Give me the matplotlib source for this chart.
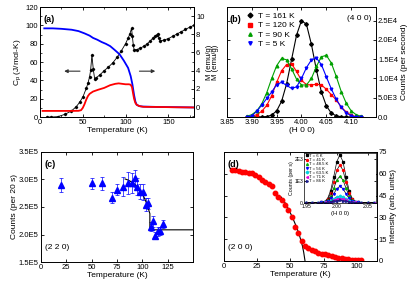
import matplotlib
matplotlib.use('Agg')
import matplotlib.pyplot as plt
from matplotlib.ticker import AutoMinorLocator

plt.rcParams['font.family'] = ['Liberation Sans', 'DejaVu Sans']
plt.rcParams['font.size'] = 5.5
plt.rcParams['axes.linewidth'] = 0.7
plt.rcParams['xtick.direction'] = 'in'
plt.rcParams['ytick.direction'] = 'in'
plt.rcParams['xtick.major.size'] = 2.5
plt.rcParams['ytick.major.size'] = 2.5
plt.rcParams['xtick.minor.size'] = 1.4
plt.rcParams['ytick.minor.size'] = 1.4
plt.rcParams['xtick.major.width'] = 0.6
plt.rcParams['ytick.major.width'] = 0.6
plt.rcParams['xtick.minor.width'] = 0.5
plt.rcParams['ytick.minor.width'] = 0.5
plt.rcParams['xtick.major.pad'] = 1.5
plt.rcParams['ytick.major.pad'] = 1.5

# ---- (a) heat capacity and magnetisation
T_cp = [8, 13, 21, 29, 36.6, 42.4, 46.3, 50.2, 54.1, 56, 58, 59.2, 60.7, 62.3, 63.9, 66, 70, 75,
        80, 85, 90, 95, 100, 103, 105, 107, 108, 109, 110, 113, 117, 121, 125, 129, 132, 135,
        137, 138, 139.2, 140.5, 145, 150, 155, 160, 165, 170, 175, 180]
cp = [0, 0, 0.4, 2.9, 6.5, 11.3, 16, 22, 31.3, 36.7, 44, 51.3, 67.6, 52, 41.5, 43, 46, 50.5,
      54.5, 59, 65, 72, 80, 86, 90.5, 96.7, 88, 79, 73.5, 73.5, 75, 77, 79.5, 83, 86, 88.3,
      89.5, 90.5, 86, 83, 84, 85.5, 88, 90.5, 93, 95.5, 98, 100]
T_m1 = [5, 15, 25, 37, 45, 52, 58, 62, 67, 72, 77, 82, 87, 93, 98, 103, 106, 108, 110, 111.5,
        113, 116, 120, 140, 160, 180]
m1 = [8.65, 8.65, 8.6, 8.5, 8.35, 8.1, 7.85, 7.6, 7.4, 7.15, 6.95, 6.7, 6.3, 5.8, 5.1, 4.3, 3.4,
      2.5, 1.3, 0.6, 0.25, 0.1, 0.05, 0.0, -0.02, -0.05]
T_m2 = [3, 20, 35, 45, 48, 50, 52, 54, 56, 58, 62, 68, 75, 82, 88, 92, 96, 100, 104, 106, 107.5,
        109, 110, 111.5, 113, 116, 121, 140, 160, 180]
m2 = [-0.43, -0.43, -0.43, -0.42, -0.35, -0.1, 0.3, 0.8, 1.2, 1.45, 1.7, 1.9, 2.1, 2.4, 2.55,
      2.6, 2.55, 2.5, 2.5, 2.45, 2.2, 1.4, 0.9, 0.45, 0.25, 0.1, 0.02, 0.0, -0.03, -0.05]

# ---- (b) (4 0 0) scans
H_b = [3.89, 3.90, 3.91, 3.92, 3.93, 3.94, 3.95, 3.96, 3.97, 3.98, 3.99, 4.00, 4.01, 4.02,
       4.03, 4.04, 4.05, 4.06, 4.07, 4.08, 4.09, 4.10, 4.11, 4.12]
c161 = [0, 0, 0, 0.03, 0.13, 0.5, 1.6, 4.1, 8.6, 14.9, 21.2, 25.0, 24.0, 18.8, 12.2, 6.5, 2.9,
        1.0, 0.3, 0.07, 0, 0, 0, 0]
c120 = [0.0, 0.2, 0.6, 1.5, 3.0, 5.5, 9.0, 12.0, 13.6, 13.8, 11.8, 9.5, 8.4, 8.3, 8.5, 8.3, 7.2,
        5.8, 4.4, 2.6, 1.3, 0.5, 0.1, 0.0]
c90 = [0.2, 0.6, 1.6, 3.4, 6.3, 10.0, 13.3, 15.2, 14.8, 12.5, 9.8, 8.3, 8.3, 10.0, 13.1, 15.6,
       16.0, 14.0, 10.5, 6.6, 3.6, 1.6, 0.6, 0.2]
c5 = [0.0, 0.3, 1.5, 3.1, 4.8, 6.5, 8.4, 9.0, 8.2, 7.4, 7.8, 10.0, 12.8, 14.8, 15.3, 13.6, 10.4,
      7.3, 4.6, 2.5, 1.1, 0.3, 0.0, 0.0]
b_labels = ['T = 161 K', 'T = 120 K', 'T = 90 K', 'T = 5 K']

# ---- (c) (2 2 0) intensity
T_c = [20, 50, 60, 70, 75, 80.5, 85.5, 90, 93, 95, 97.5, 101, 103.5, 105.5, 108.5, 110.5, 113,
       115.5, 118, 120.5]
cnt_c = [2.90, 2.93, 2.93, 2.67, 2.81, 2.87, 2.93, 2.93, 3.02, 2.87, 2.78, 2.77, 2.54, 2.57,
         2.14, 2.24, 1.98, 2.06, 2.06, 2.19]
err_c = [0.13, 0.10, 0.12, 0.10, 0.10, 0.17, 0.20, 0.18, 0.15, 0.15, 0.14, 0.14, 0.12, 0.10,
         0.08, 0.10, 0.07, 0.08, 0.07, 0.07]
fitT_c = [83, 86, 89, 92, 95, 98, 101, 104, 106, 107.5, 107.5, 150]
fit_c = [3.01, 2.99, 2.96, 2.92, 2.87, 2.80, 2.71, 2.58, 2.47, 2.38, 2.085, 2.085]

# ---- (d) (2 0 0) intensity
T_d = [6, 8.5, 11, 13.5, 16, 18.5, 21, 23.5, 26, 28.5, 31, 33.5, 36, 38.5, 41, 43.5, 46, 48.5,
       51, 53.5, 56, 58.5, 61, 63.5, 66, 68.5, 71, 73.5, 76, 78.5, 81, 83.5, 86, 88.5, 91, 93.5,
       96, 98.5, 101, 103.5]
I_d = [62.9, 62.8, 62.0, 61.3, 60.9, 60.6, 60.4, 59.0, 57.5, 56.0, 54.5, 53.0, 51.6, 47.0, 44.0,
       41.8, 38.5, 35.0, 30.5, 23.5, 19.0, 14.0, 10.5, 8.8, 7.6, 6.6, 5.8, 5.1, 4.5, 3.9, 3.4,
       2.9, 2.4, 2.0, 1.6, 1.3, 1.0, 0.8, 0.6, 0.4]
fitT_d = [43, 46, 49, 52, 55, 57, 59, 60, 61]
fit_d = [44, 40, 35, 29, 22.5, 17, 10.5, 6, 0]

# inset of (d): (1 0 0) scans
H_in = [1.950, 1.960, 1.970, 1.975, 1.980, 1.985, 1.990, 1.995, 2.000, 2.005, 2.010, 2.015,
        2.020, 2.025, 2.030, 2.035, 2.040, 2.050, 2.060]
in_scans = {
    'T = 6 K': [0, 0, 0, 10, 45, 185, 550, 1190, 1890, 2200, 1890, 1190, 550, 185, 45, 10, 0, 0, 0],
    'T = 41 K': [0, 0, 0, 8, 36, 147, 435, 940, 1490, 1740, 1490, 940, 435, 147, 36, 8, 0, 0, 0],
    'T = 48.5 K': [0, 0, 0, 5, 25, 102, 302, 654, 1040, 1210, 1040, 654, 302, 102, 25, 5, 0, 0, 0],
    'T = 56 K': [0, 0, 0, 3, 16, 63, 187, 404, 642, 750, 642, 404, 187, 63, 16, 3, 0, 0, 0],
    'T = 63.5 K': [0, 0, 0, 1, 6, 25, 75, 162, 257, 300, 257, 162, 75, 25, 6, 1, 0, 0, 0],
    'T = 71 K': [0, 0, 0, 1, 4, 15, 45, 97, 154, 180, 154, 97, 45, 15, 4, 1, 0, 0, 0],
    'T = 86 K': [0, 0, 0, 0, 2, 8, 25, 54, 86, 100, 86, 54, 25, 8, 2, 0, 0, 0, 0],
}
in_colors = ['black', 'red', '#00b000', 'blue', '#00d0e0', '#e000e0', '#1a1a8c']
in_markers = ['s', 'o', '^', 'v', 'D', '<', '>']

lab = 6
fig = plt.figure(figsize=(4.15, 2.87), dpi=100)

# ================= (a)
ax = fig.add_axes([0.0964, 0.5923, 0.371, 0.3833])
ax2 = ax.twinx()
ax2.plot(T_m1, m1, color='blue', lw=1.3)
ax2.plot(T_m2, m2, color='red', lw=1.3)
ax.plot(T_cp, cp, color='black', lw=0.6, marker='D', ms=1.2)
ax.set_xlim(0, 180)
ax.set_ylim(0, 120)
ax2.set_ylim(-1.1, 11)
ax.set_xticks([0, 50, 100, 150])
ax.set_yticks(range(0, 121, 20))
ax2.set_yticks(range(0, 11, 2))
for a in (ax, ax2):
    a.xaxis.set_minor_locator(AutoMinorLocator(2))
    a.yaxis.set_minor_locator(AutoMinorLocator(2))
ax.tick_params(which='both', top=True, labelsize=5.5)
ax2.tick_params(which='both', labelsize=5.5)
ax.set_xlabel('Temperature (K)', fontsize=lab, labelpad=1)
ax.set_ylabel(r'C$_\mathregular{p}$ (J/mol-K)', fontsize=lab, labelpad=1)
ax2.set_ylabel('M (emu/g)', fontsize=5.6)
ax2.yaxis.set_label_coords(1.075, 0.5)
ax.text(0.025, 0.93, '(a)', transform=ax.transAxes, fontsize=6.5, fontweight='bold', va='top')
ax.annotate('', xy=(25, 50), xytext=(50, 50),
            arrowprops=dict(arrowstyle='-|>', color='#333333', lw=0.8, mutation_scale=5))
ax.annotate('', xy=(138, 50), xytext=(113, 50),
            arrowprops=dict(arrowstyle='-|>', color='#333333', lw=0.8, mutation_scale=5))

# ================= (b)
ax = fig.add_axes([0.547, 0.5923, 0.359, 0.3833])
series_b = [c161, c120, c90, c5]
cols_b = ['black', 'red', '#00a000', 'blue']
mk_b = ['D', 's', '^', 'v']
for ys, c, m, l in zip(series_b, cols_b, mk_b, b_labels):
    ax.plot(H_b, [v * 1000 for v in ys], color=c, lw=0.8)
    ax.plot(H_b, [v * 1000 for v in ys], color=c, lw=0, marker=m, ms=1.9, label=l)
ax.set_xlim(3.85, 4.15)
ax.set_ylim(0, 28500)
ax.set_xticks([3.85, 3.90, 3.95, 4.00, 4.05, 4.10])
ax.set_xticklabels(['3.85', '3.90', '3.95', '4.00', '4.05', '4.10'])
ax.set_yticks([0, 5000, 10000, 15000, 20000, 25000])
ax.set_yticklabels(['0.0', '5.0E3', '1.0E4', '1.5E4', '2.0E4', '2.5E4'])
ax.yaxis.tick_right()
ax.yaxis.set_label_position('right')
ax.tick_params(which='both', top=True, left=True, right=True, labelleft=False, labelsize=5.5)
ax.set_xlabel('(H 0 0)', fontsize=lab, labelpad=1)
ax.set_ylabel('Counts (per second)', fontsize=lab, labelpad=2)
ax.text(-0.075, 0.5, 'M (emu/g)', transform=ax.transAxes, rotation=90, fontsize=5.6,
        ha='center', va='center')
ax.text(0.02, 0.93, '(b)', transform=ax.transAxes, fontsize=6.5, fontweight='bold', va='top')
ax.text(0.97, 0.93, '(4 0 0)', transform=ax.transAxes, fontsize=6, ha='right', va='top')
ax.legend(loc='upper left', bbox_to_anchor=(0.09, 1.01), frameon=False, fontsize=6,
          handlelength=0.8, handletextpad=0.5, labelspacing=0.15, borderpad=0.3, markerscale=1.3)

# ================= (c)
ax = fig.add_axes([0.0988, 0.0871, 0.366, 0.3833])
ax.errorbar(T_c, [v * 1e5 for v in cnt_c], yerr=[e * 1e5 for e in err_c], fmt='^',
            color='blue', ms=4, elinewidth=0.5, capsize=1.2, capthick=0.5)
ax.plot(fitT_c, [v * 1e5 for v in fit_c], color='black', lw=0.8)
ax.set_xlim(0, 150)
ax.set_ylim(1.5e5, 3.5e5)
ax.set_xticks([0, 25, 50, 75, 100, 125])
ax.set_yticks([1.5e5, 2.0e5, 2.5e5, 3.0e5, 3.5e5])
ax.set_yticklabels(['1.5E5', '2.0E5', '2.5E5', '3.0E5', '3.5E5'])
ax.tick_params(which='both', top=True, right=True, labelsize=5.5)
ax.set_xlabel('Temperature (K)', fontsize=lab, labelpad=1)
ax.set_ylabel('Counts (per 20 s)', fontsize=lab, labelpad=1)
ax.text(0.025, 0.93, '(c)', transform=ax.transAxes, fontsize=6.5, fontweight='bold', va='top')
ax.text(0.025, 0.13, '(2 2 0)', transform=ax.transAxes, fontsize=6, va='center')

# ================= (d)
ax = fig.add_axes([0.5398, 0.0906, 0.368, 0.3798])
ax.set_xlim(0, 115)
ax.set_ylim(0, 75)
ax.errorbar(T_d, I_d, yerr=0.8, fmt='o', color='red', ms=3.2, elinewidth=0.4, capsize=0)
ax.plot(fitT_d, fit_d, color='black', lw=0.8)
ax.set_xticks([0, 25, 50, 75, 100])
ax.set_yticks([0, 15, 30, 45, 60, 75])
ax.yaxis.tick_right()
ax.yaxis.set_label_position('right')
ax.tick_params(which='both', top=True, left=True, right=True, labelleft=False, labelsize=5.5)
ax.set_xlabel('Temperature (K)', fontsize=lab, labelpad=1)
ax.set_ylabel('Intensity (arb. units)', fontsize=lab, labelpad=2)
ax.text(0.02, 0.93, '(d)', transform=ax.transAxes, fontsize=6.5, fontweight='bold', va='top')
ax.text(0.025, 0.12, '(2 0 0)', transform=ax.transAxes, fontsize=6, va='center')

# inset
axi = fig.add_axes([0.733, 0.292, 0.172, 0.176])
for (name, ys), c, m in zip(in_scans.items(), in_colors, in_markers):
    axi.plot(H_in, ys, color='black', lw=0.5)
    axi.plot(H_in, ys, color=c, lw=0, marker=m, ms=1.4, label=name)
axi.set_xlim(1.947, 2.063)
axi.set_ylim(-30, 2300)
axi.set_xticks([1.95, 2.00, 2.05])
axi.set_xticklabels(['1.95', '2.00', '2.05'])
axi.set_yticks([0, 1000, 2000])
axi.set_yticklabels(['0', '1E3', '2E3'])
axi.tick_params(which='both', top=True, right=True, labelsize=3.6, length=1.2, pad=0.8)
for s in axi.spines.values():
    s.set_linewidth(0.5)
axi.set_xlabel('(H 0 0)', fontsize=4.2, labelpad=1)
axi.set_ylabel('Counts (per s)', fontsize=3.8, labelpad=0.5)
axi.legend(loc='upper left', frameon=False, fontsize=3.1, handlelength=0.5,
           handletextpad=0.4, labelspacing=0.05, borderpad=0.2, borderaxespad=0.1)

fig.savefig('out.png', dpi=100)
